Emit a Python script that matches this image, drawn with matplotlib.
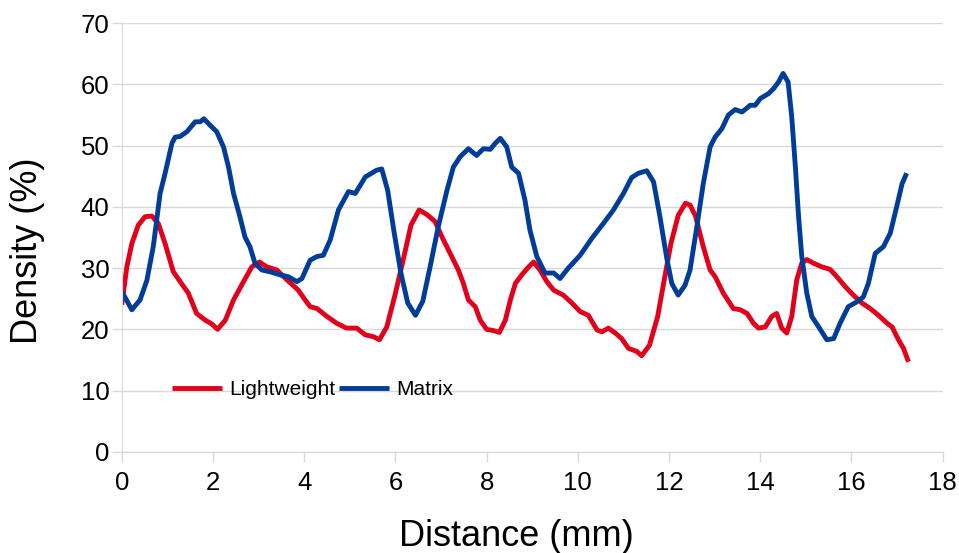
import numpy as np
from matplotlib import pyplot as plt

plt.rcParams['font.family'] = ['Liberation Sans', 'DejaVu Sans']

# Matrix density profile
matrix_x = [0.0, 0.22, 0.40, 0.55, 0.69, 0.84, 0.95, 1.10, 1.17, 1.28, 1.43, 1.61, 1.72, 1.80,
            1.94, 2.08, 2.23, 2.34, 2.45, 2.59, 2.70, 2.81, 2.92, 3.07, 3.25, 3.47, 3.65, 3.84,
            3.95, 4.13, 4.28, 4.42, 4.57, 4.75, 4.97, 5.12, 5.34, 5.59, 5.70, 5.83, 5.97, 6.12,
            6.27, 6.44, 6.60, 6.76, 6.94, 7.13, 7.27, 7.42, 7.60, 7.78, 7.93, 8.08, 8.19, 8.30,
            8.44, 8.55, 8.70, 8.84, 8.95, 9.10, 9.28, 9.47, 9.61, 9.79, 10.05, 10.31, 10.56,
            10.78, 11.00, 11.18, 11.33, 11.51, 11.66, 11.80, 11.95, 12.06, 12.20, 12.35, 12.46,
            12.61, 12.75, 12.90, 13.01, 13.16, 13.30, 13.45, 13.60, 13.78, 13.89, 14.00, 14.18,
            14.29, 14.40, 14.50, 14.61, 14.69, 14.77, 14.84, 14.91, 15.02, 15.13, 15.28, 15.46,
            15.61, 15.75, 15.93, 16.12, 16.26, 16.37, 16.52, 16.70, 16.85, 16.99, 17.11, 17.21]
matrix_y = [26.2, 23.2, 24.8, 28.0, 33.5, 42.2, 45.5, 50.4, 51.4, 51.5, 52.3, 53.9, 53.9, 54.4,
            53.3, 52.3, 49.8, 46.5, 42.2, 38.4, 35.1, 33.5, 30.8, 29.7, 29.4, 28.9, 28.6, 27.8,
            28.3, 31.3, 31.9, 32.1, 34.6, 39.5, 42.5, 42.2, 44.9, 46.0, 46.2, 42.7, 35.9, 29.2,
            24.3, 22.3, 24.6, 30.2, 36.8, 42.7, 46.5, 48.2, 49.5, 48.4, 49.5, 49.4, 50.4, 51.2,
            49.8, 46.5, 45.5, 41.1, 36.2, 31.9, 29.2, 29.2, 28.3, 30.0, 32.1, 34.9, 37.3,
            39.5, 42.2, 44.8, 45.5, 45.9, 44.1, 38.4, 31.6, 27.5, 25.6, 27.2, 29.7,
            36.8, 43.8, 49.8, 51.4, 52.8, 55.0, 55.9, 55.5, 56.6, 56.6, 57.7, 58.5,
            59.3, 60.4, 61.8, 60.4, 54.7, 46.5, 38.4, 31.9, 25.9, 22.1, 20.4, 18.3,
            18.5, 21.0, 23.7, 24.5, 25.3, 27.5, 32.4, 33.5, 35.7, 40.0, 43.8, 45.5]

# Lightweight density profile
light_x = [0.0, 0.11, 0.22, 0.36, 0.51, 0.66, 0.80, 0.95, 1.13, 1.28, 1.46, 1.64, 1.83, 1.97,
           2.10, 2.27, 2.45, 2.67, 2.85, 3.02, 3.18, 3.40, 3.62, 3.87, 4.02, 4.13, 4.28, 4.50,
           4.71, 4.93, 5.15, 5.34, 5.52, 5.65, 5.81, 5.99, 6.16, 6.34, 6.52, 6.70, 6.87, 7.02,
           7.20, 7.38, 7.49, 7.60, 7.75, 7.86, 8.00, 8.15, 8.28, 8.41, 8.52, 8.63, 8.77, 8.92,
           9.03, 9.17, 9.32, 9.47, 9.68, 9.87, 10.05, 10.23, 10.42, 10.53, 10.67, 10.82, 10.96,
           11.11, 11.29, 11.40, 11.57, 11.75, 11.88, 12.04, 12.20, 12.36, 12.46, 12.58, 12.75,
           12.90, 13.01, 13.19, 13.41, 13.56, 13.71, 13.85, 13.96, 14.11, 14.25, 14.36, 14.47,
           14.58, 14.69, 14.80, 14.91, 15.02, 15.17, 15.35, 15.53, 15.68, 15.86, 16.04, 16.23,
           16.41, 16.59, 16.78, 16.89, 17.03, 17.14, 17.25]
light_y = [24.0, 30.2, 34.0, 37.0, 38.4, 38.5, 37.3, 34.0, 29.4, 27.8, 25.9, 22.6, 21.5, 20.9,
           20.0, 21.5, 24.8, 27.8, 30.2, 31.0, 30.2, 29.7, 28.1, 26.4, 24.8, 23.7, 23.4, 22.1,
           21.0, 20.2, 20.2, 19.1, 18.8, 18.3, 20.4, 25.6, 31.0, 37.0, 39.5, 38.7, 37.6, 35.1,
           32.4, 29.7, 27.5, 24.8, 23.7, 21.5, 20.0, 19.8, 19.5, 21.5, 24.8, 27.5, 28.9, 30.2,
           31.0, 29.7, 27.8, 26.4, 25.6, 24.3, 22.9, 22.3, 19.9, 19.6, 20.2, 19.4, 18.5,
           16.9, 16.4, 15.7, 17.4, 22.1, 27.5, 34.0, 38.6, 40.6, 40.3, 38.5, 33.5,
           29.7, 28.6, 25.9, 23.4, 23.2, 22.6, 21.0, 20.2, 20.4, 22.1, 22.6, 20.2,
           19.4, 22.1, 28.1, 30.8, 31.4, 30.8, 30.2, 29.8, 28.6, 27.0, 25.6, 24.3,
           23.4, 22.3, 21.0, 20.4, 18.3, 16.9, 14.7]

x_ticks = np.arange(0, 19, 2)
y_ticks = np.arange(0, 71, 10)

fig = plt.figure(figsize=(9.59, 5.53), dpi=100)
ax = fig.add_axes([0.127, 0.183, 0.856, 0.775])

ax.plot(light_x, light_y, color='#e3001b', lw=3.5, label='Lightweight',
        solid_capstyle='butt', solid_joinstyle='round')
ax.plot(matrix_x, matrix_y, color='#003d99', lw=3.5, label='Matrix',
        solid_capstyle='butt', solid_joinstyle='round')

ax.set_xlim(0, 18)
ax.set_ylim(0, 70)
ax.set_xticks(x_ticks)
ax.set_yticks(y_ticks)
ax.grid(axis='y', color='#d9d9d9', lw=1)
ax.set_axisbelow(True)

for s in ['top', 'right']:
    ax.spines[s].set_visible(False)
for s in ['left', 'bottom']:
    ax.spines[s].set_color('#d9d9d9')
ax.tick_params(axis='both', colors='#d9d9d9', length=7, width=1, labelcolor='black',
               labelsize=18.5)
ax.tick_params(axis='x', pad=7)
ax.tick_params(axis='y', pad=2)

ax.set_xlabel('Distance (mm)', fontsize=26)
ax.set_ylabel('Density (%)', fontsize=26)
ax.xaxis.set_label_coords(0.481, -0.157)
ax.yaxis.set_label_coords(-0.093, 0.469)

ax.legend(loc='center', bbox_to_anchor=(0.2324, 0.1445), ncol=2, frameon=False,
          fontsize=15, handlelength=2.4, handletextpad=0.38, columnspacing=0.15,
          borderaxespad=0, borderpad=0)

plt.savefig('out.png', dpi=100)
